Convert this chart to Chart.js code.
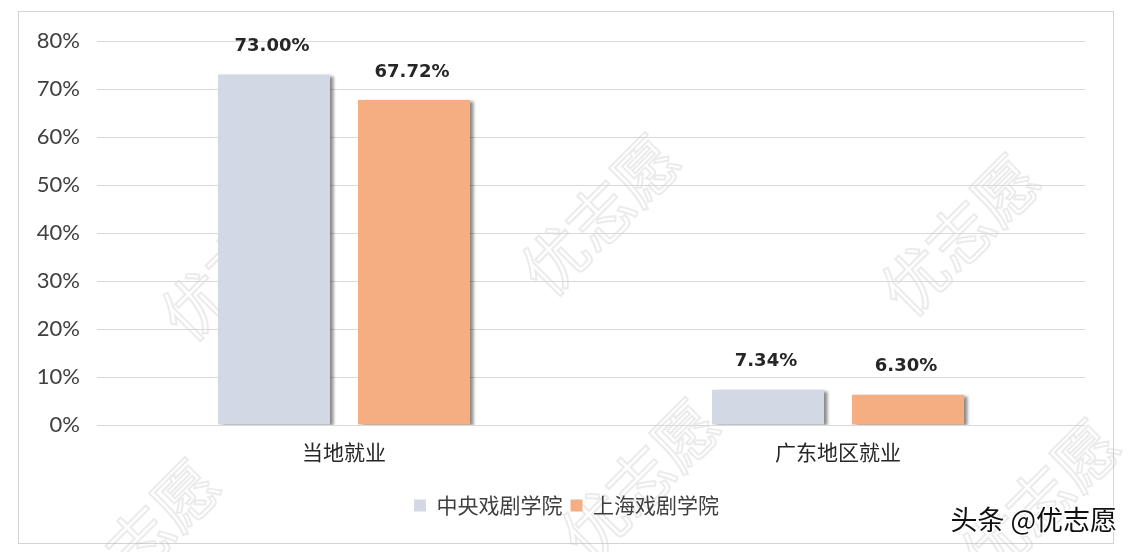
<!DOCTYPE html>
<html>
<head>
<meta charset="utf-8">
<script src="https://cdn.jsdelivr.net/npm/chart.js@4"></script>
<style>
  html, body { margin: 0; padding: 0; background: #fff; }
  #wrap { width: 1134px; height: 552px; position: relative; }
</style>
</head>
<body>
<div id="wrap"><canvas id="chart"></canvas></div>
<script>
const categories = ['当地就业', '广东地区就业'];
const seriesNames = ['中央戏剧学院', '上海戏剧学院'];
const zhongxi = [73.00, 7.34];
const shangxi = [67.72, 6.30];
const yMax = 80;
const yStep = 10;

const colors = ['#d2d9e5', '#f4ae82'];

// frame, faint watermark and footer text
const framePlugin = {
    id: 'frame',
    afterLayout(chart) {
        // legend sits centred on the whole picture, not on the plot
        chart.legend.left += 24;
        chart.legend.right += 24;
    },
    beforeDraw(chart) {
        const ctx = chart.ctx;
        ctx.save();
        ctx.fillStyle = '#ffffff';
        ctx.fillRect(0, 0, chart.width, chart.height);
        ctx.strokeStyle = '#d4d4d4';
        ctx.lineWidth = 1;
        ctx.strokeRect(18.5, 11.5, 1095, 532);
        // watermark
        ctx.font = '64px "Noto Sans CJK SC"';
        ctx.strokeStyle = 'rgba(190,190,190,0.3)';
        ctx.lineWidth = 2;
        const marks = [[240, 260], [600, 215], [960, 235], [140, 540], [640, 480], [1040, 500]];
        marks.forEach(([x, y]) => {
            ctx.save();
            ctx.translate(x, y);
            ctx.rotate(-Math.PI / 4);
            ctx.textAlign = 'center';
            ctx.textBaseline = 'middle';
            ctx.strokeText('优志愿', 0, 0);
            ctx.restore();
        });
        ctx.restore();
    },
    afterDraw(chart) {
        const ctx = chart.ctx;
        ctx.save();
        ctx.font = '27px "Noto Sans CJK SC"';
        ctx.textAlign = 'right';
        ctx.textBaseline = 'middle';
        ctx.lineWidth = 3;
        ctx.strokeStyle = '#ffffff';
        ctx.strokeText('头条 @优志愿', 1117, 520);
        ctx.fillStyle = '#111111';
        ctx.fillText('头条 @优志愿', 1117, 520);
        ctx.restore();
    }
};

// soft shadow on the bars, like the original
const shadowPlugin = {
    id: 'barShadow',
    beforeDatasetsDraw(chart) {
        const ctx = chart.ctx;
        ctx.save();
        ctx.shadowColor = 'rgba(0,0,0,0.45)';
        ctx.shadowOffsetX = 4;
        ctx.shadowOffsetY = 1;
        ctx.shadowBlur = 3;
    },
    afterDatasetsDraw(chart) {
        chart.ctx.restore();
    }
};

const valueLabels = {
    id: 'valueLabels',
    afterDatasetsDraw(chart) {
        const ctx = chart.ctx;
        ctx.save();
        ctx.font = 'bold 18px "DejaVu Sans"';
        ctx.fillStyle = '#262626';
        ctx.textAlign = 'center';
        ctx.textBaseline = 'middle';
        chart.data.datasets.forEach((ds, i) => {
            chart.getDatasetMeta(i).data.forEach((bar, j) => {
                ctx.fillText(ds.data[j].toFixed(2) + '%', bar.x - 2, bar.y - 28);
            });
        });
        ctx.restore();
    }
};

new Chart(document.getElementById('chart'), {
    type: 'bar',
    data: {
        labels: categories,
        datasets: [
            { label: seriesNames[0], data: zhongxi, backgroundColor: colors[0] },
            { label: seriesNames[1], data: shangxi, backgroundColor: colors[1] }
        ]
    },
    options: {
        responsive: true,
        maintainAspectRatio: false,
        animation: false,
        categoryPercentage: 0.567,
        barPercentage: 0.8,
        layout: { padding: { top: 41, right: 49, left: 0, bottom: 26 } },
        plugins: {
            tooltip: { enabled: false },
            legend: {
                position: 'bottom',
                labels: {
                    boxWidth: 12,
                    boxHeight: 12,
                    padding: 8,
                    color: '#404040',
                    font: { size: 21, family: '"Noto Sans CJK SC"' }
                }
            }
        },
        scales: {
            x: {
                grid: { display: false, drawTicks: false },
                border: { display: false },
                ticks: {
                    padding: 14,
                    color: '#262626',
                    font: { size: 21, family: '"Noto Sans CJK SC"' }
                },
                afterFit(scale) { scale.height = 62; }
            },
            y: {
                min: 0,
                max: yMax,
                grid: { color: '#d9d9d9', drawTicks: false },
                border: { display: false },
                ticks: {
                    stepSize: yStep,
                    padding: 17,
                    color: '#404040',
                    font: { size: 22, family: 'Lato' },
                    callback: v => v + '%'
                },
                afterFit(scale) { scale.width = 97; }
            }
        }
    },
    plugins: [framePlugin, shadowPlugin, valueLabels]
});
</script>
</body>
</html>
